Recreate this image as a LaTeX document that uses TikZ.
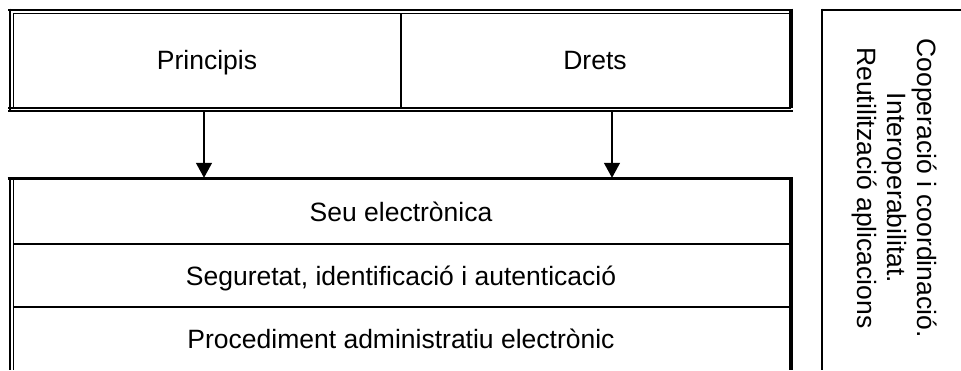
\documentclass[tikz,border=0pt]{standalone}
\usepackage{fontspec}
\setmainfont{Liberation Sans}
\usetikzlibrary{arrows.meta}
\begin{document}
\begin{tikzpicture}[x=1pt,y=-1pt,
  every node/.style={inner sep=0pt},
  lbl/.style={font=\fontsize{26.5}{30}\selectfont},
  cell/.style={lbl,text height=19pt,text depth=0pt},
  thickln/.style={line width=2pt},
  thinln/.style={line width=1.2pt},
  heavyln/.style={line width=3.5pt},
  arr/.style={line width=1.3pt,shorten >=2pt,-{Triangle[width=16pt,length=15pt]}}]
\useasboundingbox (0,0) rectangle (961,370);
% top box
\draw[thickln] (8,9.5) -- (793,9.5);
\draw[thinln] (13,13.3) -- (789,13.3);
\draw[thickln] (9.5,8.5) -- (9.5,111.5);
\draw[thinln] (13.3,13) -- (13.3,107.5);
\draw[thickln] (8,108) -- (791,108);
\draw[thinln] (8,111) -- (793,111);
\draw[heavyln] (791,8.5) -- (791,108);
\draw[thinln] (401,13) -- (401,107.5);
\node[cell,minimum width=388,minimum height=94] (principis) at (207,60) {Principis};
\node[cell,minimum width=388,minimum height=94] (drets) at (595,60) {Drets};
% bottom box
\draw[heavyln] (7.5,178.5) -- (793,178.5);
\draw[thickln] (9.5,177) -- (9.5,370);
\draw[thinln] (13.3,180) -- (13.3,370);
\draw[heavyln] (791,177) -- (791,370);
\draw[thinln] (13,244) -- (789,244);
\draw[thinln] (13,307) -- (789,307);
\node[cell,minimum width=776,minimum height=64] (seu) at (401,212) {Seu electrònica};
\node[cell,minimum width=776,minimum height=63] (seg) at (401,275.5) {Seguretat, identificació i autenticació};
\node[cell,minimum width=776,minimum height=63] (proc) at (401,339) {Procediment administratiu electrònic};
% arrows
\coordinate (a1) at (204,111.5);
\coordinate (a2) at (612,111.5);
\draw[arr] (a1) -- (a1 |- seu.north);
\draw[arr] (a2) -- (a2 |- seu.north);
% right box
\draw[line width=1.5pt] (822,8.5) -- (822,370);
\draw[thickln] (821.25,9.5) -- (961,9.5);
\node[lbl,rotate=-90,align=center] (side) at (894,188) {Cooperació i coordinació.\\Interoperabilitat.\\Reutilització aplicacions};
\end{tikzpicture}
\end{document}
